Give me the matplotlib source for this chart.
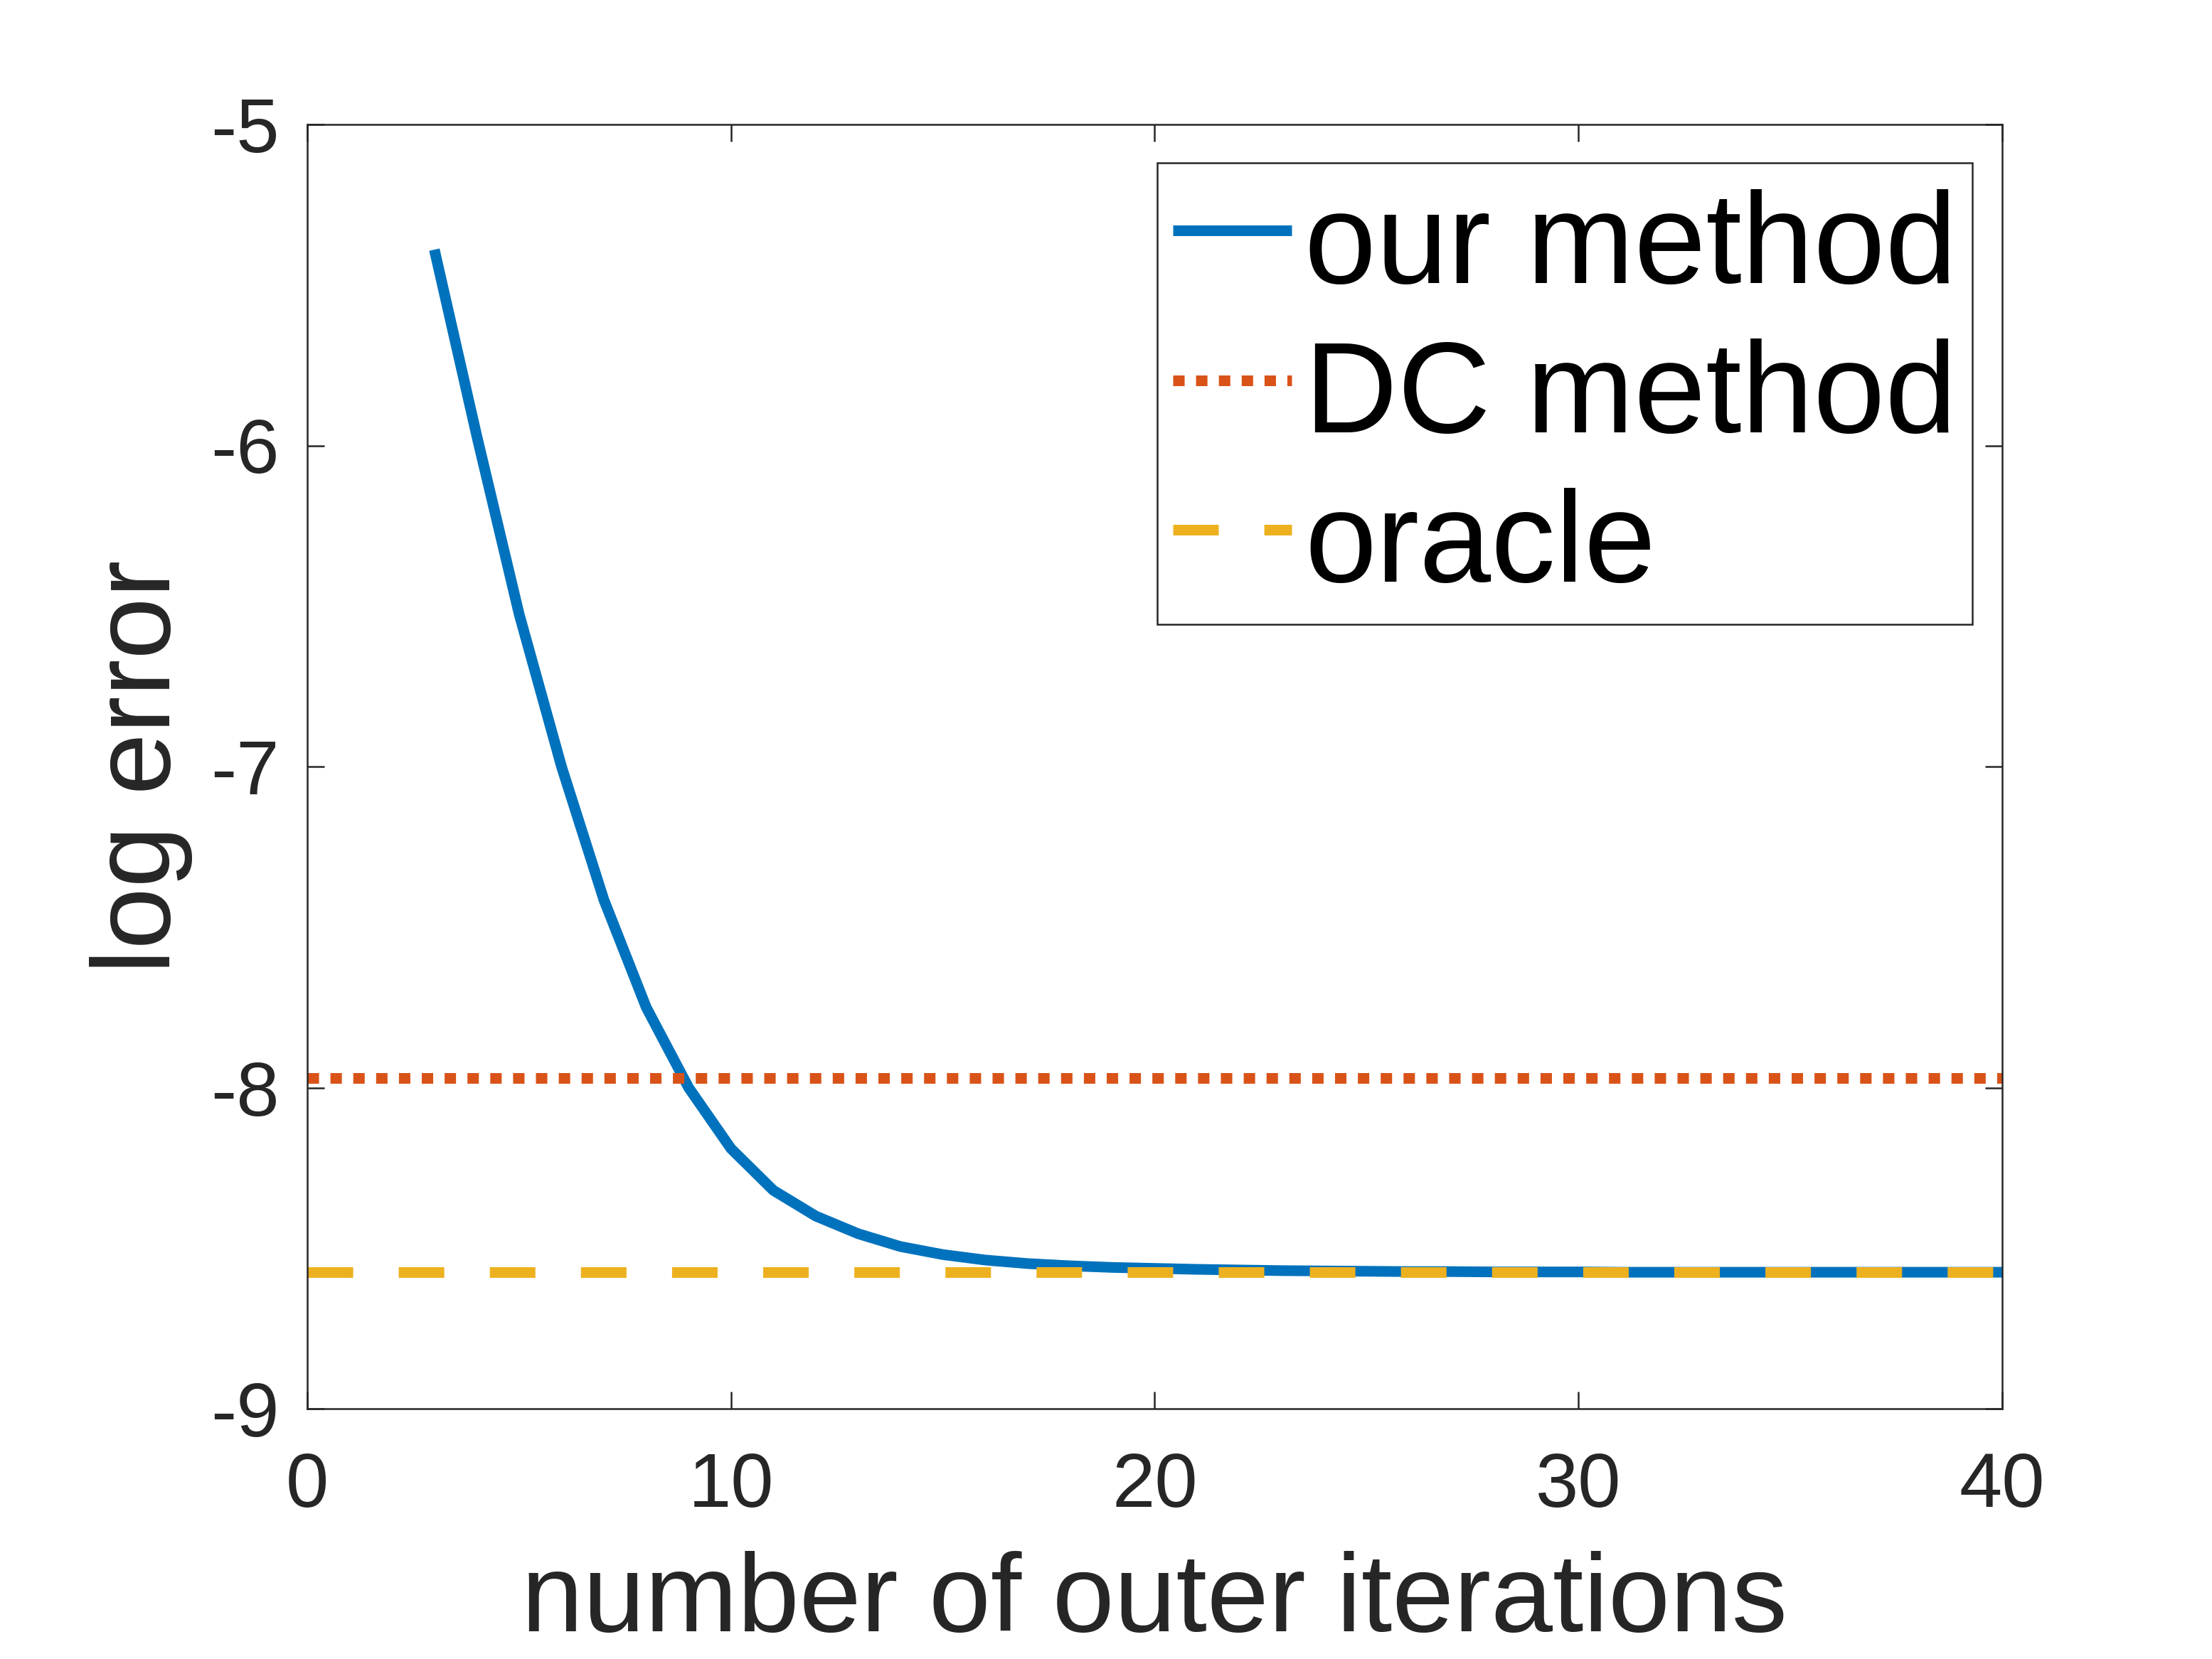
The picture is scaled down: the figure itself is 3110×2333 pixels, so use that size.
import matplotlib
matplotlib.use("Agg")
import matplotlib.pyplot as plt
import numpy as np

# ---- data ----
iterations = list(range(3, 41))
our_method = [-5.39, -5.97, -6.525, -7.00, -7.415, -7.75, -8.00, -8.19, -8.32, -8.40,
              -8.455, -8.495, -8.52, -8.537, -8.548, -8.555, -8.56, -8.563, -8.566, -8.568,
              -8.570, -8.571, -8.572, -8.573, -8.573, -8.574, -8.574, -8.574, -8.575, -8.575,
              -8.575, -8.575, -8.575, -8.575, -8.575, -8.575, -8.575, -8.575]
dc_x = [0, 40]
dc_method = [-7.97, -7.97]
oracle_x = [0, 40]
oracle = [-8.575, -8.575]

xticks = [0, 10, 20, 30, 40]
yticks = [-9, -8, -7, -6, -5]
ytick_labels = ["-9", "-8", "-7", "-6", "-5"]

plt.rcParams['font.family'] = ['Liberation Sans', 'DejaVu Sans']

W, H = 3111, 2333
DPI = 300
fig = plt.figure(figsize=(W / DPI, H / DPI), dpi=DPI)
left, right, top, bottom = 432, 2815, 175, 1981
ax = fig.add_axes([left / W, (H - bottom) / H, (right - left) / W, (bottom - top) / H])

lw = 3.6
ax.plot(iterations, our_method, color='#0072BD', lw=lw, solid_capstyle='butt',
        label='our method')
ax.plot(dc_x, dc_method, color='#D95319', lw=lw, linestyle=(0, (1.07, 1.07)),
        dash_capstyle='butt', label='DC method')
ax.plot(oracle_x, oracle, color='#EDB120', lw=lw, linestyle=(0, (4.27, 4.27)),
        dash_capstyle='butt', label='oracle')

ax.set_xlim(0, 40)
ax.set_ylim(-9, -5)
ax.set_xticks(xticks)
ax.set_yticks(yticks)
ax.set_yticklabels(ytick_labels)

axcol = '#262626'
for s in ax.spines.values():
    s.set_color(axcol)
    s.set_linewidth(0.6)
ax.tick_params(axis='both', direction='in', length=5.8, width=0.6, color=axcol,
               labelcolor=axcol, labelsize=26, top=True, right=True)
ax.tick_params(axis='x', pad=14.4)
ax.tick_params(axis='y', pad=9.4)

ax.set_xlabel('number of outer iterations', fontsize=37.5, color=axcol, labelpad=9.5)
ax.set_ylabel('log error', fontsize=37.5, color=axcol, labelpad=6)

leg = ax.legend(loc='upper right', bbox_to_anchor=(0.9824, 0.9699), borderaxespad=0,
                fontsize=43.5, handlelength=0.92, handletextpad=0.1, borderpad=0.12,
                handleheight=1.06, labelspacing=0.142, frameon=True, fancybox=False,
                framealpha=1)
leg.get_frame().set_edgecolor(axcol)
leg.get_frame().set_linewidth(0.6)

fig.savefig('out.png', dpi=DPI, facecolor='white')
